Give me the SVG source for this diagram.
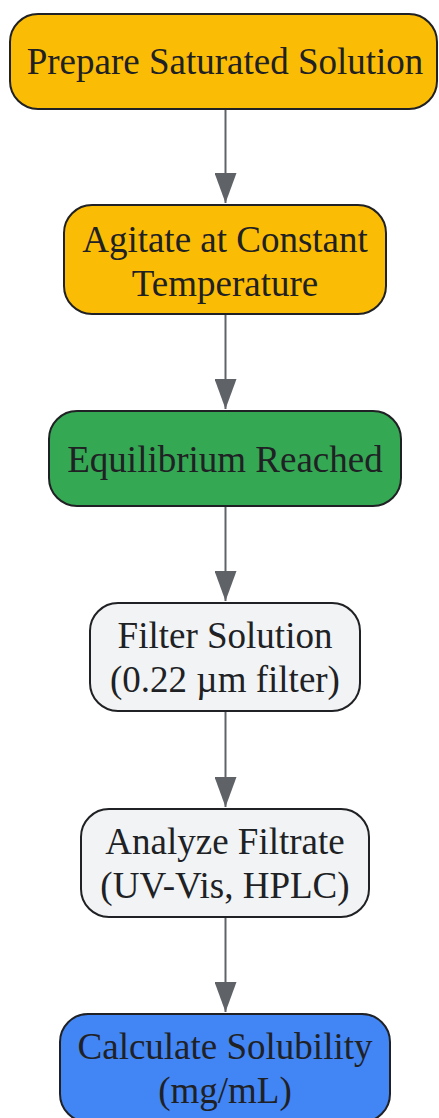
<svg xmlns="http://www.w3.org/2000/svg" width="439" height="1118" viewBox="0 0 439 1118">
<style>
.n{stroke:#202124;stroke-width:2}
.t{font-family:"Liberation Serif","Times New Roman",serif;font-size:37px;fill:#202124;text-anchor:middle}
.e{stroke:#5f6368;stroke-width:2;fill:none;marker-end:url(#ah)}
</style>
<defs>
<marker id="ah" markerUnits="userSpaceOnUse" markerWidth="30" markerHeight="22" refX="30" refY="11" orient="auto">
<path d="M0,0 L30,11 L0,22 Z" fill="#5f6368"/>
</marker>
</defs>
<rect width="439" height="1118" fill="#ffffff"/>
<g id="edges">
<line class="e" x1="225.5" y1="110" x2="225.5" y2="203"/>
<line class="e" x1="225.5" y1="315" x2="225.5" y2="409"/>
<line class="e" x1="225.5" y1="507" x2="225.5" y2="601"/>
<line class="e" x1="225.5" y1="712" x2="225.5" y2="807"/>
<line class="e" x1="225.5" y1="918" x2="225.5" y2="1012"/>
</g>
<g id="n1">
<rect class="n" x="10" y="14" width="427" height="95" rx="28" fill="#fbbc05"/>
<text class="t" x="225" y="74">Prepare Saturated Solution</text>
</g>
<g id="n2">
<rect class="n" x="64" y="205" width="322" height="109" rx="28" fill="#fbbc05"/>
<text class="t" x="225" y="252">Agitate at Constant</text>
<text class="t" x="225" y="296">Temperature</text>
</g>
<g id="n3">
<rect class="n" x="49" y="411" width="352" height="95" rx="28" fill="#34a853"/>
<text class="t" x="225" y="472">Equilibrium Reached</text>
</g>
<g id="n4">
<rect class="n" x="90" y="603" width="270" height="108" rx="28" fill="#f1f3f4"/>
<text class="t" x="225" y="648">Filter Solution</text>
<text class="t" x="225" y="692">(0.22 µm filter)</text>
</g>
<g id="n5">
<rect class="n" x="81" y="809" width="288" height="108" rx="28" fill="#f1f3f4"/>
<text class="t" x="225" y="854">Analyze Filtrate</text>
<text class="t" x="225" y="898">(UV-Vis, HPLC)</text>
</g>
<g id="n6">
<rect class="n" x="60" y="1014" width="330" height="108" rx="28" fill="#4285f4"/>
<text class="t" x="225" y="1059">Calculate Solubility</text>
<text class="t" x="225" y="1103">(mg/mL)</text>
</g>
</svg>
